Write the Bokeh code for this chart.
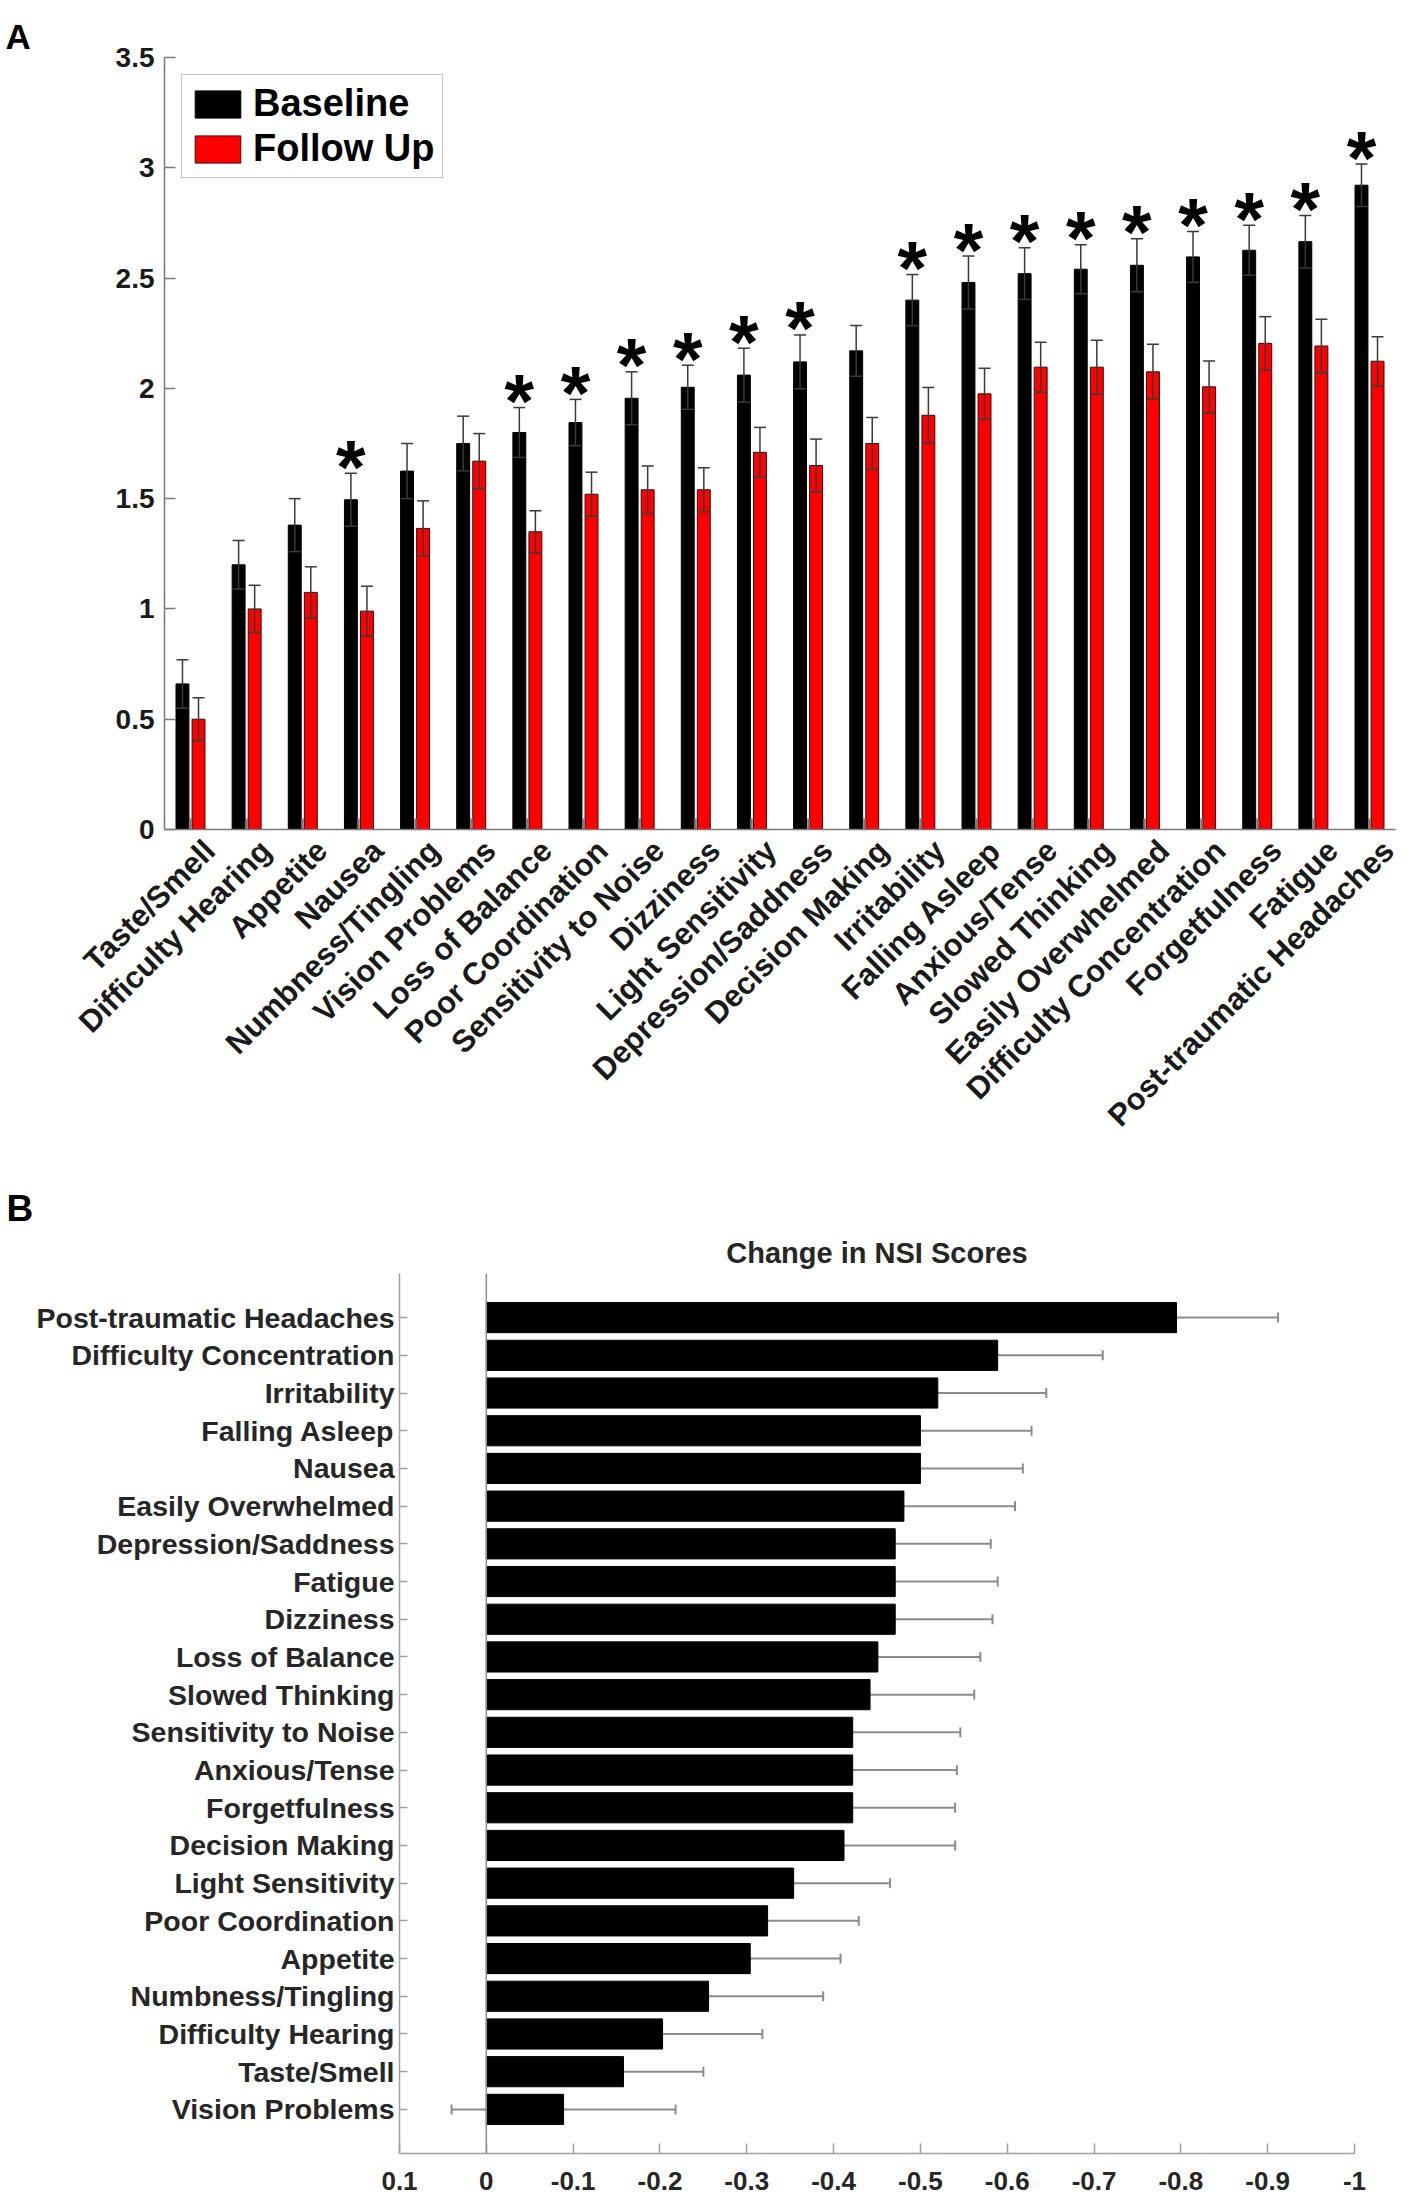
import math
from bokeh.plotting import figure
from bokeh.models import (FactorRange, Range1d, FixedTicker, CustomJSTickFormatter, LinearAxis,
                          Legend, LegendItem, ColumnDataSource, Span, Title)
from bokeh.transform import dodge
from bokeh.embed import file_html
from bokeh.resources import INLINE
from bokeh.core.properties import value

# ---------------- Panel A data ----------------
symptoms_a = ["Taste/Smell", "Difficulty Hearing", "Appetite", "Nausea", "Numbness/Tingling",
              "Vision Problems", "Loss of Balance", "Poor Coordination", "Sensitivity to Noise",
              "Dizziness", "Light Sensitivity", "Depression/Saddness", "Decision Making",
              "Irritability", "Falling Asleep", "Anxious/Tense", "Slowed Thinking",
              "Easily Overwhelmed", "Difficulty Concentration", "Forgetfulness", "Fatigue",
              "Post-traumatic Headaches"]
baseline = [0.66, 1.20, 1.38, 1.495, 1.625, 1.75, 1.80, 1.845, 1.955, 2.005, 2.06, 2.12, 2.17,
            2.40, 2.48, 2.52, 2.54, 2.558, 2.596, 2.626, 2.665, 2.921]
baseline_sem = [0.11, 0.11, 0.12, 0.12, 0.125, 0.124, 0.113, 0.105, 0.12, 0.10, 0.122, 0.122,
                0.115, 0.116, 0.12, 0.117, 0.111, 0.12, 0.115, 0.113, 0.119, 0.096]
followup = [0.50, 1.00, 1.075, 0.99, 1.365, 1.67, 1.35, 1.52, 1.54, 1.54, 1.71, 1.65, 1.75,
            1.878, 1.975, 2.096, 2.096, 2.075, 2.007, 2.204, 2.192, 2.123]
followup_sem = [0.097, 0.107, 0.116, 0.113, 0.125, 0.125, 0.095, 0.10, 0.108, 0.10, 0.113, 0.12,
                0.118, 0.126, 0.116, 0.113, 0.122, 0.125, 0.117, 0.121, 0.121, 0.111]
significant = [False, False, False, True, False, False, True, True, True, True, True, True, False,
               True, True, True, True, True, True, True, True, True]
y_ticks_a = [0, 0.5, 1, 1.5, 2, 2.5, 3, 3.5]
legend_labels = ["Baseline", "Follow Up"]

# ---------------- Panel B data ----------------
symptoms_b = ["Post-traumatic Headaches", "Difficulty Concentration", "Irritability", "Falling Asleep",
              "Nausea", "Easily Overwhelmed", "Depression/Saddness", "Fatigue", "Dizziness",
              "Loss of Balance", "Slowed Thinking", "Sensitivity to Noise", "Anxious/Tense",
              "Forgetfulness", "Decision Making", "Light Sensitivity", "Poor Coordination",
              "Appetite", "Numbness/Tingling", "Difficulty Hearing", "Taste/Smell", "Vision Problems"]
change = [-0.795, -0.589, -0.520, -0.500, -0.500, -0.481, -0.471, -0.471, -0.471, -0.451, -0.442,
          -0.422, -0.422, -0.422, -0.412, -0.354, -0.324, -0.304, -0.256, -0.203, -0.158, -0.089]
change_sem = [0.117, 0.121, 0.125, 0.128, 0.118, 0.128, 0.110, 0.118, 0.112, 0.118, 0.120, 0.124,
              0.120, 0.118, 0.128, 0.111, 0.105, 0.104, 0.132, 0.115, 0.092, 0.129]
x_ticks_b = [0.1, 0, -0.1, -0.2, -0.3, -0.4, -0.5, -0.6, -0.7, -0.8, -0.9, -1]
title_b = "Change in NSI Scores"

FONT = "Liberation Sans"
AXIS_A = "#7a7a7a"
AXIS_B = "#a0a0a0"
TXT = "#1a1a1a"
ERR = "#3a3a3a"

# ================= Panel A =================
n_a = len(symptoms_a)
cat_pos = [i + 1 for i in range(n_a)]          # category index (1..n), as in MATLAB bar()
pa = figure(width=1401, height=1148,
            x_range=Range1d(0.537, n_a + 0.463),
            y_range=Range1d(0, 3.5),
            output_backend="svg", toolbar_location=None,
            min_border_left=164, min_border_right=6, min_border_top=57, min_border_bottom=315)
pa.outline_line_color = None
pa.xgrid.grid_line_color = None
pa.ygrid.grid_line_color = None

src_a = ColumnDataSource(dict(
    pos=cat_pos, sym=symptoms_a, base=baseline, fu=followup,
    base_lo=[b - e for b, e in zip(baseline, baseline_sem)],
    base_hi=[b + e for b, e in zip(baseline, baseline_sem)],
    fu_lo=[f - e for f, e in zip(followup, followup_sem)],
    fu_hi=[f + e for f, e in zip(followup, followup_sem)],
))
OFF = 0.143
xb = dodge('pos', -OFF)
xr = dodge('pos', OFF)

rb = pa.vbar(x=xb, top='base', width=0.23, source=src_a, fill_color="black", line_color="black")
rr = pa.vbar(x=xr, top='fu', width=0.23, source=src_a, fill_color="#ff0000", line_color="#3a0a0a",
             line_width=1)

for xx, lo, hi in [(xb, 'base_lo', 'base_hi'), (xr, 'fu_lo', 'fu_hi')]:
    pa.segment(x0=xx, y0=lo, x1=xx, y1=hi, source=src_a, line_color=ERR, line_width=1.5)
    pa.scatter(x=xx, y=hi, source=src_a, marker="dash", size=12, line_color=ERR, line_width=1.5)
    pa.scatter(x=xx, y=lo, source=src_a, marker="dash", size=12, line_color=ERR, line_width=1.5)

sig_pos = [p for p, g in zip(cat_pos, significant) if g]
sig_y = [b + e for b, e, g in zip(baseline, baseline_sem, significant) if g]
src_star = ColumnDataSource(dict(pos=sig_pos, y=sig_y, t=["*"] * len(sig_pos)))
pa.text(x=dodge('pos', -OFF), y='y', text='t', source=src_star,
        text_font=value(FONT), text_font_size="76px", text_font_style="bold",
        text_align="center", text_baseline="alphabetic", y_offset=-7, text_color="black")

main_x = pa.xaxis[0]
main_y = pa.yaxis[0]
main_y.ticker = FixedTicker(ticks=y_ticks_a)
main_y.formatter = CustomJSTickFormatter(code="return String(tick)")
main_x.ticker = FixedTicker(ticks=cat_pos)
for ax in (main_x, main_y):
    ax.axis_line_color = AXIS_A
    ax.axis_line_width = 1.5
    ax.major_tick_line_color = AXIS_A
    ax.major_tick_in = 11
    ax.major_tick_out = 0
    ax.minor_tick_line_color = None
    ax.major_label_text_font = FONT
    ax.major_label_text_font_style = "bold"
    ax.major_label_text_color = TXT
main_y.major_tick_line_width = 1.5
main_y.major_label_text_font_size = "28px"
main_y.major_label_standoff = 10
main_x.major_tick_line_width = 2.5
main_x.formatter = CustomJSTickFormatter(code="return ''")
main_x.major_label_text_font_size = "1px"
main_x.major_label_standoff = 0

# category labels, anchored slightly right of the tick (MATLAB-style rotated labels)
LAB_SHIFT = 0.34
pa.extra_x_ranges = {"lab": Range1d(0.537 - LAB_SHIFT, n_a + 0.463 - LAB_SHIFT)}
lab_axis = LinearAxis(x_range_name="lab",
                      ticker=FixedTicker(ticks=cat_pos),
                      formatter=CustomJSTickFormatter(
                          args=dict(names=symptoms_a),
                          code="const i = Math.round(tick) - 1; return (i >= 0 && i < names.length) ? names[i] : '';"),
                      axis_line_color=None, major_tick_line_color=None, minor_tick_line_color=None,
                      major_label_orientation=math.pi / 4, major_label_standoff=10,
                      major_label_text_font=FONT, major_label_text_font_size="31px",
                      major_label_text_font_style="bold", major_label_text_color=TXT)
pa.add_layout(lab_axis, "below")

legend = Legend(items=[LegendItem(label=legend_labels[0], renderers=[rb]),
                       LegendItem(label=legend_labels[1], renderers=[rr])],
                location="top_left", margin=17, padding=7, spacing=2,
                glyph_width=57, glyph_height=34, label_standoff=7,
                label_text_font=FONT, label_text_font_size="38px", label_text_font_style="bold",
                label_text_color="black", border_line_color="#8a8a8a", border_line_width=1.5)
pa.add_layout(legend)

pa.add_layout(Title(text="A", align="left", offset=-159, standoff=4, text_font=FONT,
                    text_font_size="35px", text_font_style="bold", text_color="black"), "above")

# ================= Panel B =================
pb = figure(width=1401, height=1050,
            y_range=FactorRange(factors=list(reversed(symptoms_b)), range_padding=0.67,
                                range_padding_units="absolute"),
            x_range=Range1d(0.1, -1),
            output_backend="svg", toolbar_location=None,
            min_border_left=399, min_border_right=47, min_border_top=125, min_border_bottom=45)
pb.outline_line_color = None
pb.xgrid.grid_line_color = None
pb.ygrid.grid_line_color = None
pb.add_layout(Title(text=title_b, align="center", standoff=10, text_font=FONT,
                    text_font_size="29px", text_font_style="bold", text_color="#262626"), "above")
pb.add_layout(Title(text="B", align="left", offset=-393, standoff=2, text_font=FONT,
                    text_font_size="37px", text_font_style="bold", text_color="black"), "above")

src_b = ColumnDataSource(dict(
    sym=symptoms_b, chg=change,
    lo=[c + e for c, e in zip(change, change_sem)],
    hi=[c - e for c, e in zip(change, change_sem)],
))
pb.add_layout(Span(location=0, dimension="height", line_color="#8c8c8c", line_width=1.5))
pb.segment(x0='lo', y0='sym', x1='hi', y1='sym', source=src_b, line_color="#8c8c8c", line_width=2)
pb.scatter(x='hi', y='sym', source=src_b, marker="dash", angle=math.pi / 2, size=10,
           line_color="#8c8c8c", line_width=2)
pb.scatter(x='lo', y='sym', source=src_b, marker="dash", angle=math.pi / 2, size=10,
           line_color="#8c8c8c", line_width=2)
pb.hbar(y='sym', left=0, right='chg', height=0.8, source=src_b, fill_color="black",
        line_color="black")

pb.xaxis.ticker = FixedTicker(ticks=x_ticks_b)
pb.xaxis.formatter = CustomJSTickFormatter(code="return String(tick)")
for ax in (pb.xaxis[0], pb.yaxis[0]):
    ax.axis_line_color = AXIS_B
    ax.axis_line_width = 1.5
    ax.major_tick_line_color = AXIS_B
    ax.major_tick_line_width = 1.5
    ax.major_tick_out = 0
    ax.minor_tick_line_color = None
    ax.major_label_text_font = FONT
    ax.major_label_text_font_style = "bold"
    ax.major_label_text_color = "#262626"
pb.yaxis.major_tick_in = 8
pb.yaxis.major_label_text_font_size = "28.5px"
pb.yaxis.major_label_standoff = 5
pb.xaxis.major_tick_in = 10
pb.xaxis.major_label_text_font_size = "26px"
pb.xaxis.major_label_standoff = 18

open("out.html", "w").write(file_html([pa, pb], INLINE))
